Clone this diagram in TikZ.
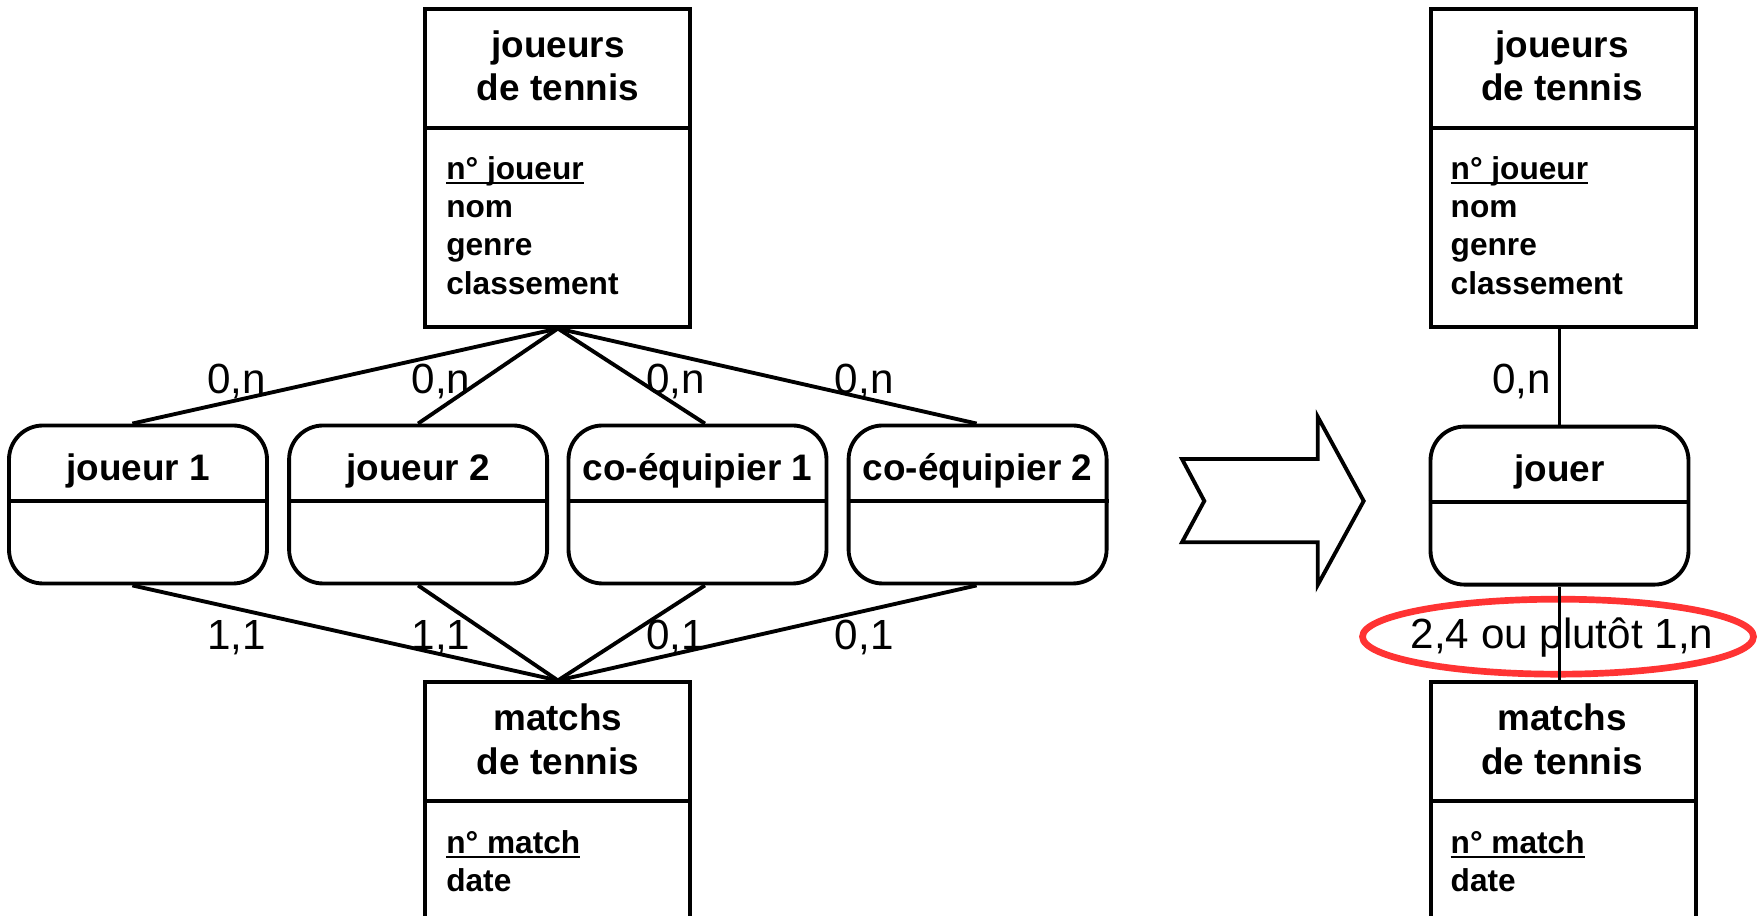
\documentclass[tikz,border=0pt]{standalone}
\usepackage{fontspec}
\setmainfont{Liberation Sans}
\usetikzlibrary{shapes.geometric}

\definecolor{rougecercle}{RGB}{255,51,51}

\newcommand{\cle}[1]{\setbox0\hbox{#1}\rlap{\rule[-1.3pt]{\wd0}{0.6pt}}\box0}

\tikzset{
  entite/.style={draw, line width=1.1pt, minimum width=2.65cm, inner sep=0pt},
  asso/.style={draw, line width=1.1pt, rounded corners=0.34cm, minimum width=2.58cm, minimum height=1.58cm, inner sep=0pt},
  titre/.style={font=\fontsize{10.5}{12.4}\selectfont\bfseries, align=center, inner sep=0pt},
  attr/.style={font=\fontsize{9}{10.9}\selectfont\bfseries, align=left, anchor=west, inner sep=0pt},
  card/.style={font=\fontsize{12}{14}\selectfont, inner sep=0pt},
  lien/.style={line width=1.1pt},
}

\begin{document}
\begin{tikzpicture}
  \useasboundingbox (0,0) rectangle (17.6,-9.16);

  % left side: four associations
  \node[entite, minimum height=3.176cm] (jt) at (5.579,-1.678) {};
  \draw[lien] (jt.west |- 0,-1.28) -- (jt.east |- 0,-1.28);
  \node[titre] at (5.579,-0.66) {joueurs\\de tennis};
  \node[attr] at (4.456,-2.254) {\cle{n° joueur}\\nom\\genre\\classement};

  \node[entite, minimum height=2.576cm] (mt) at (5.579,-8.112) {};
  \draw[lien] (mt.west |- 0,-8.014) -- (mt.east |- 0,-8.014);
  \node[titre] at (5.579,-7.396) {matchs\\de tennis};
  \node[attr] at (4.456,-8.609) {\cle{n° match}\\date};

  \foreach \nom/\x/\dx/\texte in {r1/1.38/-0.056/joueur 1, r2/4.181/0/joueur 2, r3/6.975/0.074/co-équipier 1, r4/9.776/-0.01/co-équipier 2}{
    \node[asso] (\nom) at (\x,-5.045) {};
    \draw[lien] (\nom.west |- 0,-5.006) -- (\nom.east |- 0,-5.006);
    \node[titre] at (\x,-4.705) {\texte};
    \draw[lien] (jt.south) -- ([xshift=\dx cm]\nom.north);
    \draw[lien] ([xshift=\dx cm]\nom.south) -- (mt.north);
  }

  \foreach \x/\c in {2.368/{0,n}, 4.41/{0,n}, 6.757/{0,n}, 8.643/{0,n}}{
    \node[card] at (\x,-3.815) {\c};
  }
  \foreach \x/\c in {2.368/{1,1}, 4.41/{1,1}, 6.757/{0,1}, 8.643/{0,1}}{
    \node[card] at (\x,-6.375) {\c};
  }

  % arrow
  \draw[lien] (11.82,-4.59) -- (13.177,-4.59) -- (13.177,-4.167) -- (13.637,-5.01)
    -- (13.177,-5.85) -- (13.177,-5.423) -- (11.82,-5.423) -- (12.043,-5.01) -- cycle;

  % right side: one association
  \node[entite, minimum height=3.176cm] (jt2) at (15.635,-1.678) {};
  \draw[lien] (jt2.west |- 0,-1.28) -- (jt2.east |- 0,-1.28);
  \node[titre] at (15.62,-0.66) {joueurs\\de tennis};
  \node[attr] at (14.5,-2.254) {\cle{n° joueur}\\nom\\genre\\classement};

  \node[entite, minimum height=2.576cm] (mt2) at (15.635,-8.112) {};
  \draw[lien] (mt2.west |- 0,-8.014) -- (mt2.east |- 0,-8.014);
  \node[titre] at (15.62,-7.396) {matchs\\de tennis};
  \node[attr] at (14.5,-8.609) {\cle{n° match}\\date};

  \node[asso] (jouer) at (15.595,-5.056) {};
  \draw[lien] (jouer.west |- 0,-5.017) -- (jouer.east |- 0,-5.017);
  \node[titre] at (15.595,-4.715) {jouer};

  \node[card] at (15.215,-3.815) {0,n};
  \node[ellipse, draw=rougecercle, line width=1.9pt, minimum width=3.91cm, minimum height=0.75cm, inner sep=0pt] (cercle) at (15.58,-6.367) {};
  \node[card] at (15.62,-6.375) {2,4 ou plutôt 1,n};

  \draw[lien] (jt2.south -| jouer.north) -- (jouer.north);
  \draw[lien] (jouer.south) -- (mt2.north -| jouer.south);
\end{tikzpicture}
\end{document}
